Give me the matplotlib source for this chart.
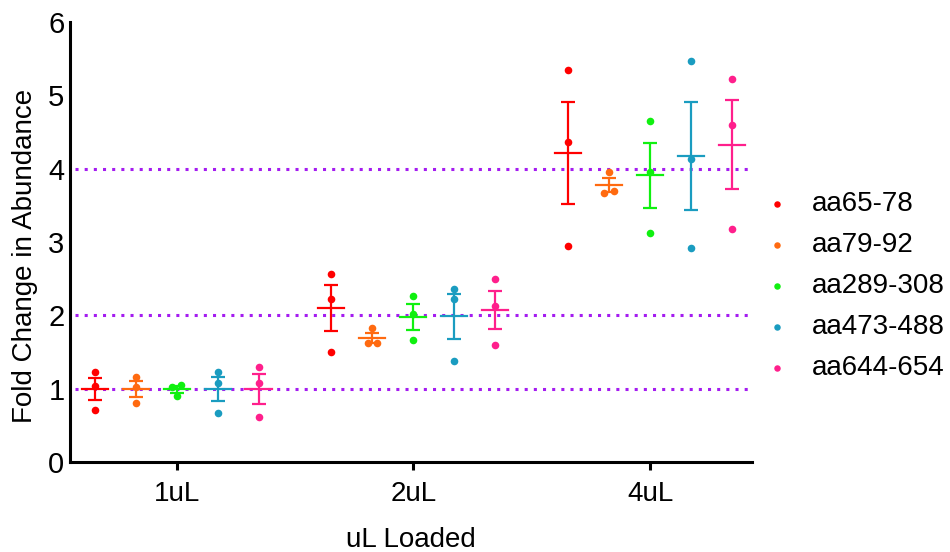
import numpy as np
import matplotlib

matplotlib.use("Agg")
import matplotlib.pyplot as plt

plt.rcParams["font.family"] = ["Liberation Sans", "DejaVu Sans"]

# 数据：每组三个重复值
groups = ["1uL", "2uL", "4uL"]
series = ["aa65-78", "aa79-92", "aa289-308", "aa473-488", "aa644-654"]
colors = ["#FF0000", "#FF6A10", "#10F010", "#1A9CC0", "#FF1F8C"]

aa65_78 = [[1.23, 1.04, 0.71], [2.57, 2.23, 1.50], [5.34, 4.37, 2.94]]
aa79_92 = [[1.16, 1.03, 0.80], [1.83, 1.63, 1.63], [3.96, 3.67, 3.70]]
aa289_308 = [[1.05, 1.03, 0.90], [2.26, 2.02, 1.66], [4.65, 3.95, 3.13]]
aa473_488 = [[1.23, 1.08, 0.67], [2.36, 2.23, 1.38], [5.47, 4.13, 2.92]]
aa644_654 = [[1.29, 1.08, 0.61], [2.50, 2.13, 1.60], [5.22, 4.59, 3.18]]
all_data = [aa65_78, aa79_92, aa289_308, aa473_488, aa644_654]

ref_lines = [1, 2, 4]

fig = plt.figure(figsize=(9.5, 5.52), dpi=100)
ax = fig.add_axes([0.0737, 0.163, 0.7179, 0.797])

# 参考虚线
for y in ref_lines:
    ax.axhline(y, xmin=0.008, xmax=0.995, color="#A41CF0", lw=2.2,
               ls=(0, (1, 2)), zorder=1)

step = 0.173   # 组内系列间距
half = 0.055   # 均值横线半宽
spread = 0.02  # 重叠点左右错开

for si, (name, data, c) in enumerate(zip(series, all_data, colors)):
    for gi, vals in enumerate(data):
        vals = np.array(vals)
        xc = gi + (si - 2) * step
        # 相近的点左右错开，其余居中
        xs = np.full(len(vals), xc)
        order = np.argsort(vals)
        for a, b in zip(order[:-1], order[1:]):
            if abs(vals[b] - vals[a]) < 0.06:
                xs[a] = xc - spread
                xs[b] = xc + spread
        m = vals.mean()
        sem = vals.std(ddof=1) / np.sqrt(len(vals))
        ax.errorbar(xc, m, yerr=sem, color=c, lw=1.6, capsize=5,
                    capthick=1.6, zorder=3)
        ax.plot([xc - half, xc + half], [m, m], color=c, lw=1.6, zorder=3)
        ax.scatter(xs, vals, s=30, color=c, zorder=4, linewidths=0,
                   label=name if gi == 0 else None)

ax.set_xlim(-0.45, 2.43)
ax.set_ylim(0, 6)
ax.set_xticks(range(len(groups)))
ax.set_xticklabels(groups)
ax.set_yticks(range(7))
ax.tick_params(axis="y", length=0, pad=4, labelsize=21)
ax.tick_params(axis="x", length=6, width=2.2, pad=8, labelsize=20)
for s in ["top", "right"]:
    ax.spines[s].set_visible(False)
for s in ["left", "bottom"]:
    ax.spines[s].set_linewidth(2.2)
ax.set_xlabel("uL Loaded", fontsize=20, labelpad=14)
ax.set_ylabel("Fold Change in Abundance", fontsize=20)
ax.yaxis.set_label_coords(-0.047, 0.468)

leg = fig.legend(loc="upper left", bbox_to_anchor=(0.7737, 0.699),
                 frameon=False, fontsize=20, markerscale=0.85,
                 handletextpad=0.67, labelspacing=0.54, handlelength=1.2)

fig.savefig("out.png", dpi=100)
